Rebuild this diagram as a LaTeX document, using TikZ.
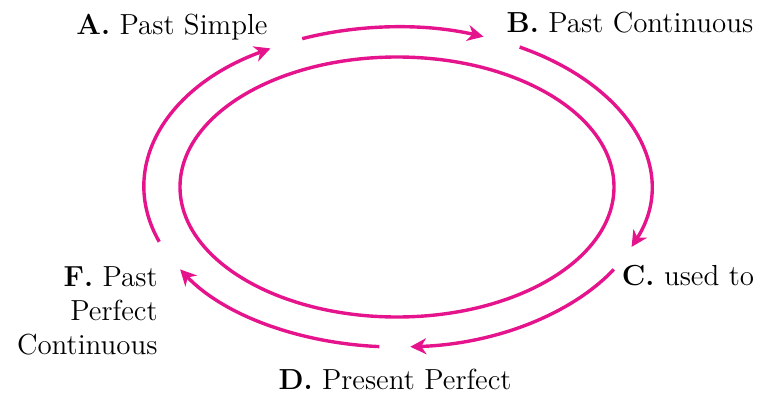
\documentclass[tikz,border=0pt]{standalone}
\usetikzlibrary{arrows.meta}
\definecolor{tensepink}{RGB}{230,20,140}

\begin{document}
\begin{tikzpicture}[x=0.5pt,y=0.5pt]
\tikzset{cycleline/.style={tensepink,line width=1.7pt},
  cyclearrow/.style={cycleline,-{Stealth[length=8pt,width=8pt,inset=2.5pt]}},
  tense/.style={font=\fontsize{14.5}{17}\selectfont,inner sep=0pt}};
\useasboundingbox (0,0) rectangle (768,393);
\coordinate (ctr) at (397,206);
    \node[tense] (A) at (172,366) {\textbf{A.} Past Simple};
    \node[tense] (B) at (630,370) {\textbf{B.} Past Continuous};
    \node[tense] (C) at (688,117) {\textbf{C.} used to};
    \node[tense] (D) at (395,14) {\textbf{D.} Present Perfect};
    \node[tense,align=right,anchor=east] (F) at (158,82) {\textbf{F.} Past\\Perfect\\Continuous};
    \draw[cycleline] (ctr) ellipse [x radius=217, y radius=130];
    \coordinate (fa) at ([shift={(ctr)}]200:253 and 160);
    \coordinate (ab) at ([shift={(ctr)}]112:253 and 160);
    \coordinate (bc) at ([shift={(ctr)}]61:253 and 160);
    \coordinate (cd) at ([shift={(ctr)}]-31:253 and 160);
    \coordinate (df) at ([shift={(ctr)}]266:253 and 160);
    \draw[cyclearrow] (fa) arc[start angle=200,end angle=120,x radius=253,y radius=160];
    \draw[cyclearrow] (ab) arc[start angle=112,end angle=70,x radius=253,y radius=160];
    \draw[cyclearrow] (bc) arc[start angle=61,end angle=-22,x radius=253,y radius=160];
    \draw[cyclearrow] (cd) arc[start angle=-31,end angle=-87,x radius=253,y radius=160];
    \draw[cyclearrow] (df) arc[start angle=266,end angle=211,x radius=253,y radius=160];
\end{tikzpicture}
\end{document}
